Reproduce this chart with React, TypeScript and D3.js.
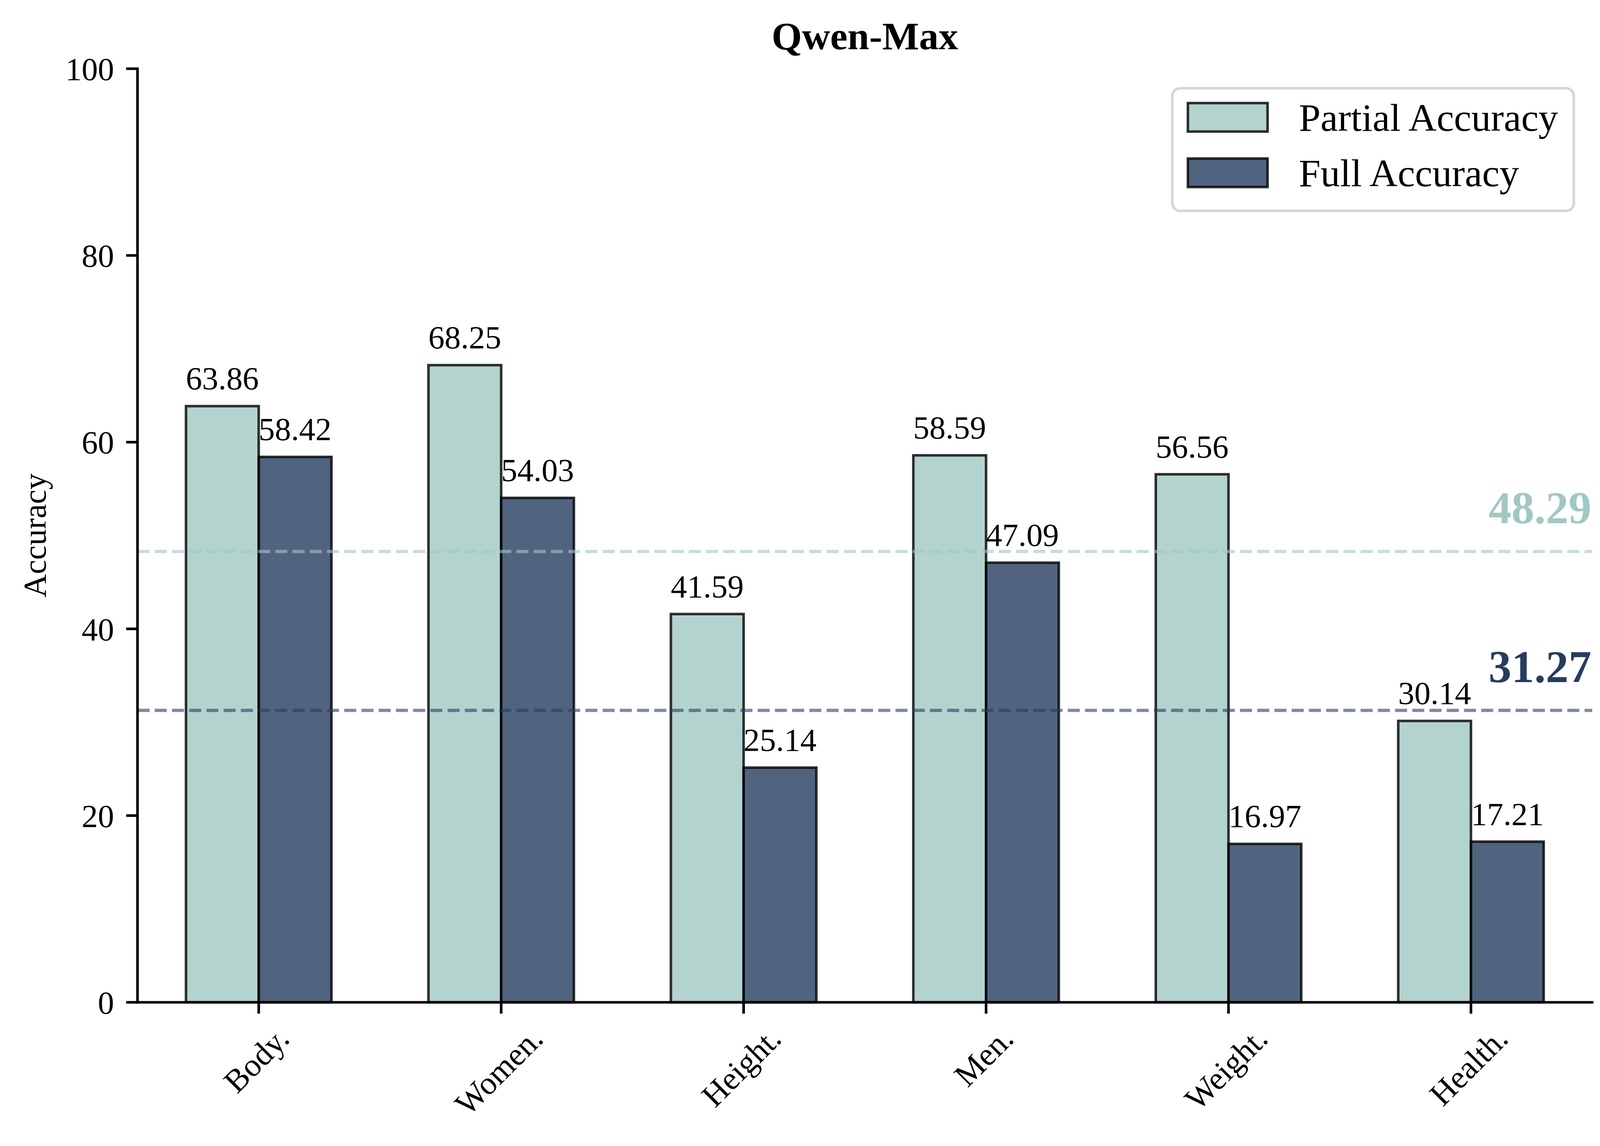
import React from 'react'
import * as d3 from 'd3'

const categories = ['Body.', 'Women.', 'Height.', 'Men.', 'Weight.', 'Health.']
const partialAccuracy = [63.86, 68.25, 41.59, 58.59, 56.56, 30.14]
const fullAccuracy = [58.42, 54.03, 25.14, 47.09, 16.97, 17.21]
const partialMean = 48.29
const fullMean = 31.27
const yTicks = [0, 20, 40, 60, 80, 100]

const series = [
  { name: 'Partial Accuracy', values: partialAccuracy, color: '#a0c8c2', mean: partialMean },
  { name: 'Full Accuracy', values: fullAccuracy, color: '#253d5f', mean: fullMean },
]

const width = 4137
const height = 2935
const plot = { left: 352, right: 4076, top: 176, bottom: 2567 }
const font = "'Liberation Serif', 'Times New Roman', Times, serif"

let ctx: CanvasRenderingContext2D | null = null
const textWidth = (text: string, size: number) => {
  if (!ctx) ctx = document.createElement('canvas').getContext('2d')
  if (!ctx) return text.length * size * 0.5
  ctx.font = `${size}px ${font}`
  return ctx.measureText(text).width
}

const App: React.FunctionComponent = () => {
  React.useEffect(() => {
    document.body.style.margin = '0'
    document.body.style.overflow = 'hidden'
  }, [])

  const x = d3.scaleBand<string>().domain(categories).range([plot.left, plot.right]).paddingInner(0).paddingOuter(0)
  const y = d3.scaleLinear().domain([0, 100]).range([plot.bottom, plot.top])
  const bw = x.bandwidth() * 0.3
  const center = (c: string) => (x(c) as number) + x.bandwidth() / 2

  const tickFs = 83
  const tickLen = 29

  return (
    <svg width={width} height={height} style={{ display: 'block', background: '#fff' }} fontFamily={font}>
      {/* bars */}
      {series.map((s, si) => (
        <g key={s.name}>
          {categories.map((c, i) => {
            const x0 = center(c) + (si - 1) * bw
            return (
              <rect
                key={c}
                x={x0}
                y={y(s.values[i])}
                width={bw}
                height={y(0) - y(s.values[i])}
                fill={s.color}
                fillOpacity={0.8}
                stroke="#000"
                strokeOpacity={0.8}
                strokeWidth={6.5}
              />
            )
          })}
        </g>
      ))}

      {/* value labels */}
      {series.map((s, si) =>
        categories.map((c, i) => (
          <text
            key={s.name + c}
            x={center(c) + (si - 0.5) * bw}
            y={y(s.values[i]) - 43}
            textAnchor="middle"
            fontSize={tickFs}
            fill="#000"
          >
            {s.values[i].toFixed(2)}
          </text>
        ))
      )}

      {/* mean lines */}
      {series.map(s => (
        <g key={'mean' + s.name}>
          <line
            x1={plot.left}
            x2={plot.right}
            y1={y(s.mean)}
            y2={y(s.mean)}
            stroke={s.color}
            strokeOpacity={0.6}
            strokeWidth={8.3}
            strokeDasharray="30.8 13.3"
          />
          <text
            x={plot.right - 2}
            y={y(s.mean + 2) - 25}
            textAnchor="end"
            fontSize={117}
            fontWeight="bold"
            fill={s.color}
          >
            {s.mean.toFixed(2)}
          </text>
        </g>
      ))}

      {/* axes */}
      <line x1={plot.left} x2={plot.left} y1={plot.top} y2={plot.bottom} stroke="#000" strokeWidth={6.7} strokeLinecap="square" />
      <line x1={plot.left} x2={plot.right} y1={plot.bottom} y2={plot.bottom} stroke="#000" strokeWidth={6.7} strokeLinecap="square" />

      {yTicks.map(t => (
        <g key={'y' + t}>
          <line x1={plot.left - tickLen} x2={plot.left} y1={y(t)} y2={y(t)} stroke="#000" strokeWidth={6.7} />
          <text x={plot.left - tickLen - 31} y={y(t) + 29} textAnchor="end" fontSize={tickFs}>
            {t}
          </text>
        </g>
      ))}

      {categories.map(c => {
        const cx = center(c)
        const w = textWidth(c, tickFs)
        const h = tickFs * 0.9
        const top = plot.bottom + tickLen + 29
        const cy = top + ((w + h) * Math.SQRT1_2) / 2
        return (
          <g key={'x' + c}>
            <line x1={cx} x2={cx} y1={plot.bottom} y2={plot.bottom + tickLen} stroke="#000" strokeWidth={6.7} />
            <text
              transform={`translate(${cx},${cy}) rotate(-45)`}
              y={tickFs * 0.233}
              textAnchor="middle"
              fontSize={tickFs}
            >
              {c}
            </text>
          </g>
        )
      })}

      {/* axis labels and title */}
      <text transform={`translate(117,${(plot.top + plot.bottom) / 2}) rotate(-90)`} textAnchor="middle" fontSize={tickFs}>
        Accuracy
      </text>
      <text x={(plot.left + plot.right) / 2} y={126} textAnchor="middle" fontSize={100} fontWeight="bold">
        Qwen-Max
      </text>

      {/* legend */}
      <g>
        <rect x={3001} y={226} width={1028} height={314} rx={20} ry={20} fill="#fff" fillOpacity={0.8} stroke="#d6d6d6" strokeWidth={6.7} />
        {series.map((s, i) => (
          <g key={'leg' + s.name} transform={`translate(0,${i * 142})`}>
            <rect
              x={3041}
              y={264}
              width={204}
              height={73}
              fill={s.color}
              fillOpacity={0.8}
              stroke="#000"
              strokeOpacity={0.8}
              strokeWidth={6.5}
            />
            <text x={3325} y={335} fontSize={100}>
              {s.name}
            </text>
          </g>
        ))}
      </g>
    </svg>
  )
}

export default App
